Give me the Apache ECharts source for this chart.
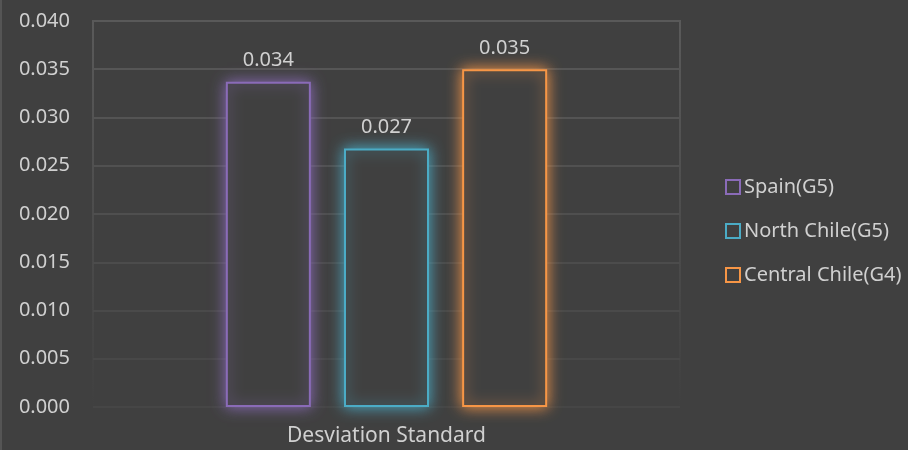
<!DOCTYPE html>
<html>
<head>
<meta charset="utf-8">
<script src="https://cdn.jsdelivr.net/npm/echarts@6/dist/echarts.min.js"></script>
<style>
html, body { margin: 0; padding: 0; background: #404040; }
#chart { width: 908px; height: 450px; }
</style>
</head>
<body>
<div id="chart"></div>
<script>
var categories = ['Desviation Standard'];
var seriesNames = ['Spain(G5)', 'North Chile(G5)', 'Central Chile(G4)'];
var seriesValues = [[0.0337], [0.0268], [0.0350]];
var seriesLabels = ['0.034', '0.027', '0.035'];
var seriesColors = ['#8a6bb8', '#4bacc6', '#f79646'];
// lignes de grille : plus claires en haut, estompées en bas
var gridColors = ['#464646', '#484848', '#4a4a4a', '#4c4c4c', '#4f4f4f', '#515151', '#545454', '#565656', '#595959'];

var myChart = echarts.init(document.getElementById('chart'));

var series = [];
for (var i = 0; i < seriesNames.length; i++) {
	(function (k) {
		series.push({
			name: seriesNames[k],
			type: 'bar',
			barWidth: 85,
			barGap: '39%',
			data: seriesValues[k],
			itemStyle: {
				color: '#404040',
				borderColor: seriesColors[k],
				borderWidth: 2,
				shadowColor: seriesColors[k],
				shadowBlur: 14
			},
			label: {
				show: true,
				position: 'top',
				distance: 11,
				color: '#d0d0d0',
				fontFamily: 'Noto Sans',
				fontSize: 20,
				formatter: function () { return seriesLabels[k]; }
			}
		});
	})(i);
}

var option = {
	backgroundColor: '#404040',
	animation: false,
	grid: {
		left: 93,
		right: 228,
		top: 21,
		bottom: 43,
		show: true,
		borderWidth: 2,
		borderColor: new echarts.graphic.LinearGradient(0, 0, 0, 1, [
			{ offset: 0, color: '#5a5a5a' },
			{ offset: 1, color: 'rgba(90,90,90,0)' }
		])
	},
	legend: {
		orient: 'vertical',
		left: 720,
		top: 172,
		itemWidth: 14,
		itemHeight: 14,
		itemGap: 24,
		icon: 'rect',
		textStyle: { color: '#d0d0d0', fontFamily: 'Noto Sans', fontSize: 20, padding: [0, 0, 0, -1] },
		data: seriesNames.map(function (n, k) {
			return { name: n, itemStyle: { color: 'rgba(0,0,0,0)', borderColor: seriesColors[k], borderWidth: 2, shadowBlur: 0 } };
		})
	},
	xAxis: {
		type: 'category',
		data: categories,
		axisLine: { show: false },
		axisTick: { show: false },
		axisLabel: { color: '#d0d0d0', fontFamily: 'Noto Sans', fontSize: 21, margin: 19 }
	},
	yAxis: {
		type: 'value',
		min: 0,
		max: 0.04,
		interval: 0.005,
		axisLine: { show: false },
		axisTick: { show: false },
		axisLabel: {
			color: '#d0d0d0',
			fontFamily: 'Noto Sans',
			fontSize: 20,
			margin: 23,
			formatter: function (v) { return v.toFixed(3); }
		},
		splitLine: { lineStyle: { color: gridColors, width: 2 } }
	},
	graphic: [{
		type: 'line',
		shape: { x1: 1, y1: 0, x2: 1, y2: 450 },
		style: { stroke: '#555555', lineWidth: 2 }
	}],
	series: series
};

myChart.setOption(option);
</script>
</body>
</html>
